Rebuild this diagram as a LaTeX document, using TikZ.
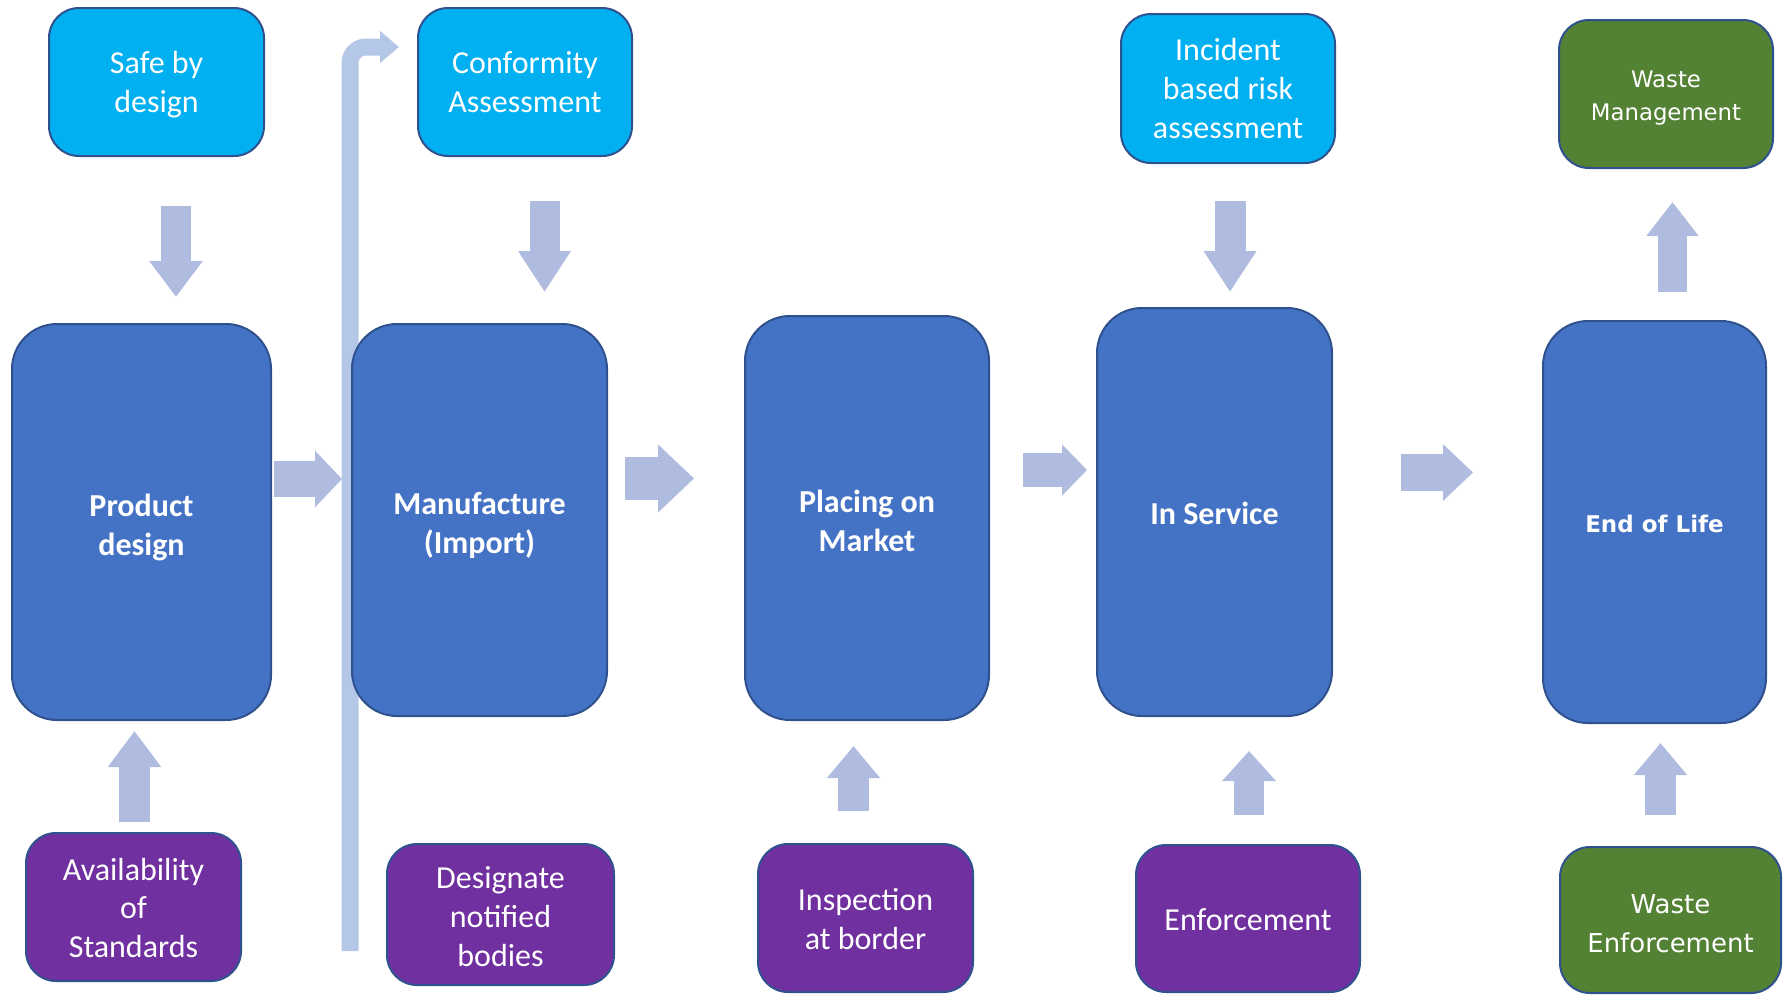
\documentclass[tikz,border=0pt]{standalone}
\usepackage{fontspec}
\setmainfont{Carlito}
\newfontfamily\verdfont{DejaVu Sans}
\usetikzlibrary{arrows.meta,calc,backgrounds}
\definecolor{skyblue}{HTML}{00B0F0}
\definecolor{stageblue}{HTML}{4472C4}
\definecolor{checkpurple}{HTML}{7030A0}
\definecolor{wastegreen}{HTML}{548235}
\definecolor{edgeblue}{HTML}{2F528F}
\definecolor{arrowblue}{RGB}{176,188,223}
\definecolor{barblue}{HTML}{B4C7E7}
\begin{document}
\begin{tikzpicture}[x=1pt, y=-1pt, every node/.style={text=white, align=center}]
    \tikzstyle{box} = [rectangle, draw=edgeblue, line width=2pt, inner sep=0pt, rounded corners=30pt, minimum width=214pt, minimum height=148pt, text depth=0pt, font=\fontsize{32}{38.7}\selectfont]
    \tikzstyle{input} = [box, fill=skyblue]
    \tikzstyle{check} = [box, fill=checkpurple]
    \tikzstyle{waste} = [box, fill=wastegreen]
    \tikzstyle{stage} = [box, fill=stageblue, rounded corners=45pt, font=\bfseries\fontsize{32}{38.7}\selectfont]
    \tikzstyle{fat} = [draw=arrowblue, line width=30pt, -{Triangle[width=51pt,length=36pt]}]
    \useasboundingbox (0,0) rectangle (1783,994);

    % life cycle stages
    \node [stage, minimum width=259pt, minimum height=396pt, text height=67pt] (pd) at (141.5,522) {Product\\design};
    \node [stage, minimum width=255pt, minimum height=392pt, text height=66pt] (mf) at (479.5,520) {Manufacture\\(Import)};
    \node [stage, minimum width=244pt, minimum height=404pt, text height=66.5pt] (pom) at (867,518) {Placing on\\Market};
    \node [stage, minimum width=235pt, minimum height=408pt, text height=25.5pt] (ins) at (1214.5,512) {In Service};
    \node [stage, minimum width=223pt, minimum height=402pt, font=\verdfont\bfseries\fontsize{23}{28}\selectfont, text height=20pt] (eol) at (1654.5,522) {End of Life};

    % top row
    \node [input, minimum width=215pt] (sbd) at (156.5,82) {Safe by\\design};
    \node [input] (ca) at (525,82) {Conformity\\Assessment};
    \node [input, minimum height=149pt] (ira) at (1228,88.5) {Incident\\based risk\\assessment};
    \node [waste, font=\verdfont\fontsize{22.8}{33}\selectfont, text height=52.5pt] (wm) at (1666,94) {Waste\\Management};

    % bottom row
    \node [check, minimum width=215pt, text height=101pt] (aos) at (133.5,907) {Availability\\of\\Standards};
    \node [check, minimum width=227pt, minimum height=141pt, text height=103pt] (dnb) at (500.5,914.5) {Designate\\notified\\bodies};
    \node [check, minimum width=215pt, text height=62pt] (iab) at (865.5,918) {Inspection\\at border};
    \node [check, minimum width=224pt, minimum height=147pt, text height=24.5pt] (enf) at (1248,918.5) {Enforcement};
    \node [waste, minimum width=221pt, minimum height=146pt, font=\verdfont\fontsize{26}{38.7}\selectfont, text height=65pt] (we) at (1670.5,920) {Waste\\Enforcement};

    % long bent arrow behind the boxes
    \coordinate (barfoot) at (350,951);
    \begin{scope}[on background layer]
        \draw [draw=barblue, line width=17pt, rounded corners=16pt, -{Triangle[width=31pt,length=19pt]}] (barfoot) |- ($(ca.west)+(-18,-35)$);
    \end{scope}

    % inputs down into the stages
    \draw [fat] ($(sbd.south)+(19.5,49)$) -- ($(pd.north)+(34.5,-26)$);
    \draw [fat, -{Triangle[width=50pt,length=41pt]}] ($(ca.south)+(19.5,44)$) -- ($(mf.north)+(65,-31)$);
    \draw [fat, line width=31pt, -{Triangle[width=50pt,length=41pt]}] ($(ira.south)+(2,37)$) -- ($(ins.north)+(15.5,-15)$);
    \draw [fat, line width=29pt, -{Triangle[width=50pt,length=34pt]}] ($(eol.north)+(18,-28)$) -- ($(wm.south)+(6.5,33)$);

    % bottom row up into the stages
    \draw [fat, line width=31pt] ($(aos.north)+(1,-10)$) -- ($(pd.south)+(-7,10)$);
    \draw [fat, line width=31pt, -{Triangle[width=51pt,length=32pt]}] ($(iab.north)+(-12,-32)$) -- ($(pom.south)+(-13.5,25)$);
    \draw [fat, line width=30pt, -{Triangle[width=52pt,length=30pt]}] ($(enf.north)+(1,-29)$) -- ($(ins.south)+(34.5,34)$);
    \draw [fat, line width=31pt, -{Triangle[width=51pt,length=32pt]}] ($(we.north)+(-10,-31)$) -- ($(eol.south)+(6,19)$);

    % stage to stage
    \draw [fat, line width=36pt, -{Triangle[width=55pt,length=27pt]}] ($(pd.east)+(2,-43)$) -- ($(mf.west)+(-9,-41)$);
    \draw [fat, line width=43pt, -{Triangle[width=66pt,length=36pt]}] ($(mf.east)+(17,-41.5)$) -- ($(pom.west)+(-50,-39.5)$);
    \draw [fat, line width=34pt, -{Triangle[width=50pt,length=25pt]}] ($(pom.east)+(33,-48)$) -- ($(ins.west)+(-9,-42)$);
    \draw [fat, line width=37pt, -{Triangle[width=55pt,length=30pt]}] ($(ins.east)+(68,-39.5)$) -- ($(eol.west)+(-69,-49.5)$);
\end{tikzpicture}
\end{document}
